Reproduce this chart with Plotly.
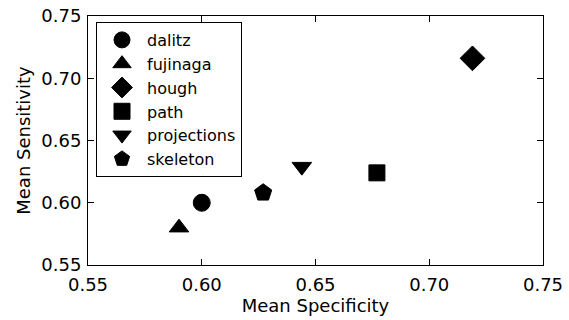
import plotly.graph_objects as go

methods = ["dalitz", "fujinaga", "hough", "path", "projections", "skeleton"]
specificity = [0.600, 0.590, 0.719, 0.677, 0.644, 0.627]
sensitivity = [0.600, 0.580, 0.716, 0.624, 0.629, 0.608]
symbols = ["circle", "triangle-up", "diamond", "square", "triangle-down", "pentagon"]
sizes = [17, 17, 19, 16, 17, 18]

tick_vals = [0.55, 0.60, 0.65, 0.70, 0.75]
tick_text = ["0.55", "0.60", "0.65", "0.70", "0.75"]

fig = go.Figure()
for m, x, y, s, sz in zip(methods, specificity, sensitivity, symbols, sizes):
    fig.add_trace(go.Scatter(
        x=[x], y=[y], mode="markers", name=m,
        marker=dict(symbol=s, size=sz, color="black",
                    line=dict(color="black", width=1)),
    ))

axis_common = dict(
    showline=True, linecolor="black", linewidth=1, mirror="ticks",
    ticks="inside", ticklen=6, tickwidth=1, tickcolor="black",
    showgrid=False, zeroline=False,
    tickvals=tick_vals, ticktext=tick_text,
    tickfont=dict(size=18, color="black"),
)

fig.update_xaxes(range=[0.55, 0.75], title=dict(text="Mean Specificity", font=dict(size=18, color="black"), standoff=5),
                 ticklabelstandoff=3, **axis_common)
fig.update_yaxes(range=[0.55, 0.75], title=dict(text="Mean Sensitivity", font=dict(size=18, color="black"), standoff=6),
                 ticklabelstandoff=2, **axis_common)

fig.update_layout(
    width=569, height=320,
    margin=dict(l=88, r=26, t=16, b=55, autoexpand=False),
    paper_bgcolor="white", plot_bgcolor="white",
    font=dict(family="DejaVu Sans", color="black"),
    showlegend=True,
    legend=dict(
        x=0.0176, y=0.976, xanchor="left", yanchor="top",
        bordercolor="black", borderwidth=1, bgcolor="white",
        font=dict(size=16, color="black"),
        itemwidth=40, tracegroupgap=0,
    ),
)

fig.write_html("out.html", config={"displayModeBar": False},
               post_script="document.body.style.margin='0';document.body.style.padding='0';")
